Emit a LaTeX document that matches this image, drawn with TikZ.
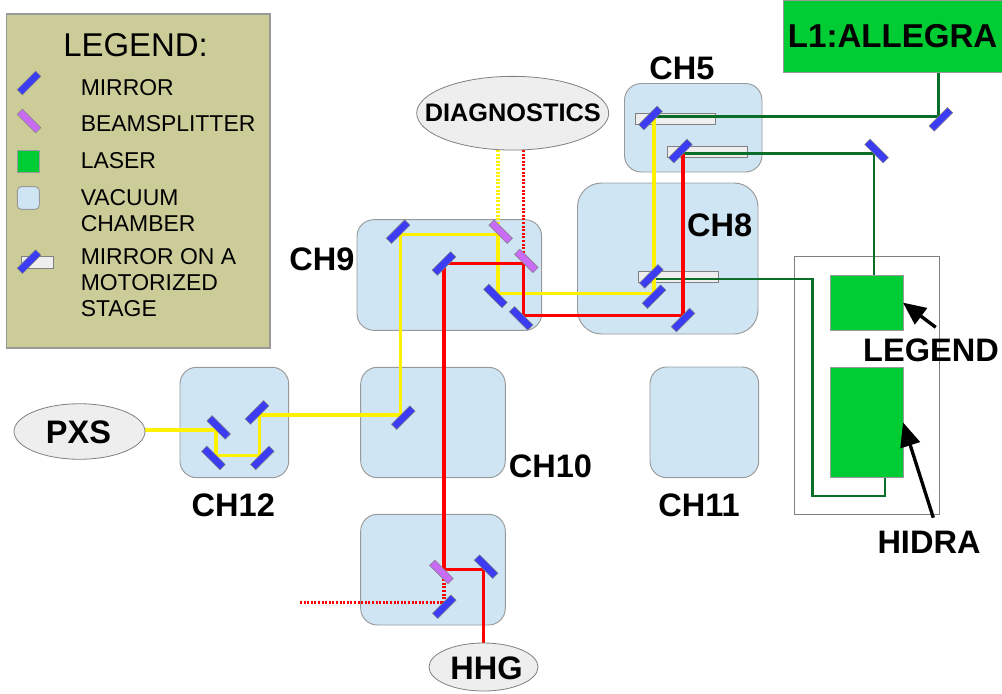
\documentclass[tikz,border=0pt]{standalone}
\usepackage{fontspec}
\setmainfont{Liberation Sans}
\usetikzlibrary{arrows.meta,positioning,shapes.geometric}
\definecolor{panel}{HTML}{CCCC99}
\definecolor{vessel}{HTML}{CFE5F3}
\definecolor{rimgray}{HTML}{999999}
\definecolor{mirrorblue}{HTML}{3C3CF5}
\definecolor{splitter}{HTML}{C96CF5}
\definecolor{lasergreen}{HTML}{00CC33}
\definecolor{stagegray}{HTML}{EEEEEE}
\definecolor{beamgreen}{HTML}{0B6E28}
\pgfdeclarelayer{background}
\pgfdeclarelayer{beamlayer}
\pgfsetlayers{background,beamlayer,main}
\begin{document}
\begin{tikzpicture}[x=0.75pt,y=-0.75pt,>=Stealth,
  boxsize/.style 2 args={minimum width=#1*0.75pt,minimum height=#2*0.75pt,inner sep=0pt,outer sep=0pt},
  chamber/.style={draw=rimgray,line width=0.7pt,fill=vessel,rounded corners=12.5pt},
  laser/.style={draw=rimgray,line width=0.6pt,fill=lasergreen},
  stage/.style={rectangle,draw=gray,line width=0.6pt,fill=stagegray,boxsize={80}{11}},
  optic/.style={rectangle,draw=gray,line width=0.4pt,boxsize={26}{7.4}},
  mirror/.style={optic,fill=mirrorblue},
  splitmirror/.style={optic,fill=splitter},
  port/.style={ellipse,draw=gray,line width=0.6pt,fill=stagegray},
  bigtext/.style={font=\fontsize{24.4}{28}\selectfont\bfseries,anchor=base,inner sep=0pt},
  keytext/.style={font=\fontsize{17.2}{19.5}\selectfont,anchor=base west,align=left,inner sep=0pt},
  beam/.style={line width=2.3pt,line join=miter},
  greenbeam/.style={line width=2.2pt,line join=miter,beamgreen},
  dotbeam/.style={line width=2.4pt,dash pattern=on 1.5pt off 1.2pt}]
  \useasboundingbox (0,0) rectangle (1002,693);
  \begin{pgfonlayer}{background}
    \node[rectangle,draw=rimgray,line width=0.8pt,fill=panel,boxsize={263.5}{334}] (legendbox) at (138.25,181) {};
    \node[rectangle,draw=gray,line width=0.5pt,boxsize={144.6}{257.6}] (enclosure) at (867,385.5) {};
    \foreach \name/\x/\y/\w/\h in {ch5/693.25/127.75/137.5/88.5, ch9/449.35/275/184.7/110.6, ch10/433/422.5/144.6/110.4, ch12/234.35/422.5/108.7/110.4, chhhg/433/569.65/144.6/110.7, ch11/704.35/422.35/108.7/110.7}{
      \node[chamber,boxsize={\w}{\h}] (\name) at (\x,\y) {};
    }
    \node[chamber,rounded corners=18pt,boxsize={180.5}{151}] (ch8) at (667.75,258.5) {};
    \node[stage] (stagea) at (675.3,118.8) {};
    \node[stage] (stageb) at (707.8,151.8) {};
    \node[stage] (stagec) at (678.8,276.8) {};
  \end{pgfonlayer}

  \foreach \name/\ang/\anc/\x/\y in {ma/-45/south/216/430, mb/-45/north/216/455.3, mc/45/north/259.7/455.3, md/45/south/259.7/415, me/45/north/400.7/415, mf/45/south/400.7/234.3, mg/-45/north/498/293.3, mh/45/center/654/296.7, mi/45/center/650.5/118, mj/-45/south/483.5/569.3, mk/45/center/444/263.5, ml/-45/north/523.7/315.7, mm/45/center/683/320, mn/45/south/683/153.7, mo/45/center/444.3/606.7, mp/45/north/938.3/116.7, mq/-45/south/874/153.7, mr/45/south/654/279}{
    \node[mirror,rotate=\ang,anchor=\anc] (\name) at (\x,\y) {};
  }
  \foreach \name/\anc/\x/\y in {bsa/south/498/234.3, bsb/south/523.7/263.5, bsc/north/444/569.3}{
    \node[splitmirror,rotate=-45,anchor=\anc] (\name) at (\x,\y) {};
  }

  \node[laser,rectangle,boxsize={218.7}{72.3},font=\fontsize{24.8}{28}\selectfont\bfseries] (allegra) at (892.65,36.15) {L1:ALLEGRA};
  \node[laser,rectangle,boxsize={72.7}{55.3}] (legendlaser) at (866.65,302.65) {};
  \node[laser,rectangle,boxsize={72.7}{110.7}] (hidralaser) at (866.65,422.35) {};
  \node[port,boxsize={192}{73.7}] (diag) at (512.7,113.2) {};
  \node[port,boxsize={131}{55.5}] (pxs) at (79.5,431.5) {};
  \node[port,boxsize={109}{48}] (hhg) at (483.5,667) {};

  \foreach \name/\x/\y/\txt in {lblch5/682/79/CH5, lblch8/719.7/236.7/CH8, lblch9/322/270/CH9, lblch10/550.5/477/CH10, lblch12/233.3/516.7/CH12, lblch11/699/516.7/CH11, lbllegend/931/361.7/LEGEND, lblhidra/929/553/HIDRA, lblpxs/78.5/443/PXS, lblhhg/486.5/679/HHG}{
    \node[bigtext] (\name) at (\x,\y) {\txt};
  }
  \node[bigtext,font=\fontsize{19}{22}\selectfont\bfseries] (lbldiag) at (512.8,121.7) {DIAGNOSTICS};

  \node[keytext,font=\fontsize{24.7}{28}\selectfont] (keytitle) at (63,56.7) {LEGEND:};
  \node[keytext] (keymirror) at (80.5,95) {MIRROR};
  \node[keytext] (keysplit) at (80.5,131.7) {BEAMSPLITTER};
  \node[keytext] (keylaser) at (80.5,168.3) {LASER};
  \node[keytext] (keyvacuum) at (80.5,205) {VACUUM};
  \node[keytext] (keychamber) at (80.5,231) {CHAMBER};
  \node[keytext] (keystagea) at (80.5,264) {MIRROR ON A};
  \node[keytext] (keystageb) at (80.5,290) {MOTORIZED};
  \node[keytext] (keystagec) at (80.5,316) {STAGE};
  \node[mirror,rotate=45] (iconmirror) at (29,83) {};
  \node[splitmirror,rotate=-45] (iconsplit) at (29,121) {};
  \node[laser,rectangle,boxsize={22}{22.3}] (iconlaser) at (28.3,161.2) {};
  \node[chamber,rounded corners=3pt,boxsize={22}{22.6}] (iconchamber) at (28.3,198) {};
  \node[stage,boxsize={32.7}{11.7}] (iconstage) at (37.3,262.2) {};
  \node[mirror,rotate=45] (iconstagemirror) at (29,261.7) {};

  \coordinate (leaktail) at (300,602.7);
  \coordinate (hidraout) at (885,477.7);
  \coordinate (hidracorner) at (812.7,496);
  \coordinate (legendtail) at (935.7,327.3);
  \coordinate (hidratail) at (933.3,517.7);

  \begin{pgfonlayer}{beamlayer}
    \draw[greenbeam] (mp.north |- allegra.south) -- (mp.north) -- (mp.north -| mi.center);
    \draw[greenbeam] (mq.south |- legendlaser.north) -- (mq.south) -- (mn.south);
    \draw[greenbeam] (hidraout) |- (hidracorner) |- (mr.south);
    \draw[beam,yellow] (pxs.east |- ma.south) -- (ma.south) -- (mb.north) -- (mc.north) -- (md.south) -- (me.north) -- (mf.south) -- (bsa.south) -- (mg.north) -| (mh.center) -- (mh.center |- mi.center);
    \draw[dotbeam,yellow] (bsa.south |- diag.south) -- (bsa.south);
    \draw[beam,red] (hhg.north) -- (mj.south) -- (bsc.north) -- (mk.center) -- (bsb.south) -- (ml.north) -| (mm.center) -- (mn.south);
    \draw[dotbeam,red] (bsb.south |- diag.south) -- (bsb.south);
    \draw[dotbeam,red] (leaktail) -| (bsc.north);
  \end{pgfonlayer}

  \draw[->,>={Triangle[length=17pt,width=15pt]},line width=2.5pt] (legendtail) -- (legendlaser.east);
  \draw[->,>={Triangle[length=18pt,width=15pt]},line width=2.5pt] (hidratail) -- (hidralaser.east);
\end{tikzpicture}
\end{document}
